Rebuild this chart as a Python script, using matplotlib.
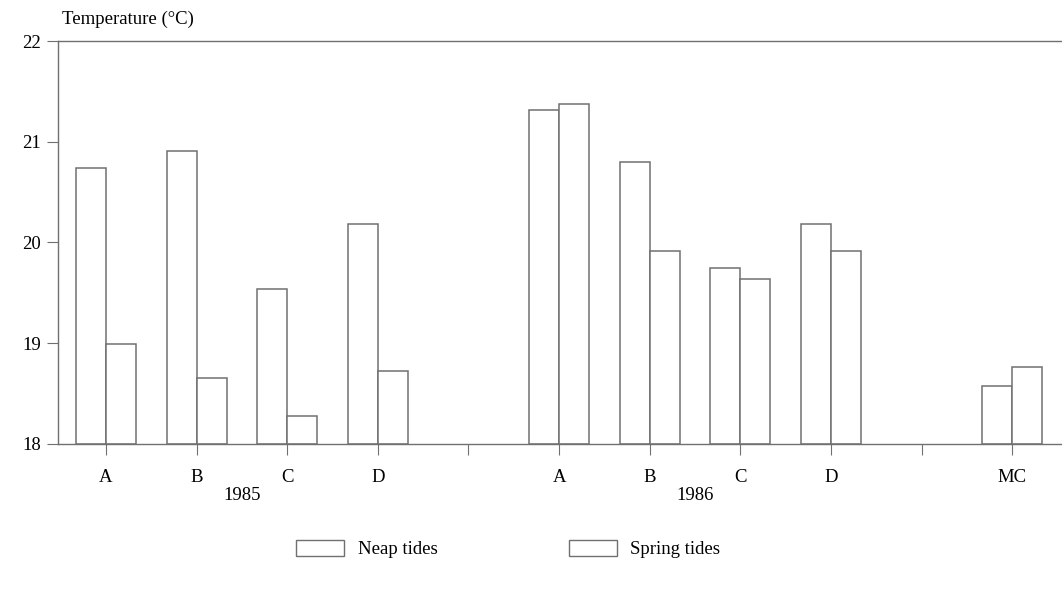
import numpy as np
import matplotlib.pyplot as plt
from matplotlib.patches import Patch
from matplotlib.transforms import blended_transform_factory

plt.rcParams['font.family'] = ['Liberation Serif', 'DejaVu Serif']

# categorias (las posiciones vacias separan 1985, 1986 y MC)
sitios = ['A', 'B', 'C', 'D', '', 'A', 'B', 'C', 'D', '', 'MC']
neap = [20.74, 20.91, 19.54, 20.18, np.nan, 21.32, 20.80, 19.75, 20.18, np.nan, 18.57]
spring = [18.99, 18.65, 18.28, 18.72, np.nan, 21.37, 19.92, 19.64, 19.92, np.nan, 18.76]
anios = ['1985', '1986']
anio_pos = [1.5, 6.5]

gris = '#707070'
x = np.arange(len(sitios))
w = 0.33

fig = plt.figure(figsize=(10.62, 5.95), dpi=100)
ax = fig.add_axes([0.0546, 0.254, 0.9454, 0.677])

base = 18
ax.bar(x - w / 2, np.array(neap) - base, w, bottom=base, facecolor='white',
       edgecolor=gris, linewidth=1.1)
ax.bar(x + w / 2, np.array(spring) - base, w, bottom=base, facecolor='white',
       edgecolor=gris, linewidth=1.1)

ax.set_xlim(-0.53, 10.55)
ax.set_ylim(18, 22)
ax.set_yticks([18, 19, 20, 21, 22])
ax.set_xticks(x)
ax.set_xticklabels(sitios, fontsize=13.5)
ax.tick_params(axis='y', labelsize=13.5, length=8, color=gris, pad=4)
ax.tick_params(axis='x', length=8, color=gris, pad=10)

for s in ['left', 'bottom', 'top']:
    ax.spines[s].set_color(gris)
    ax.spines[s].set_linewidth(1.0)
ax.spines['right'].set_visible(False)

trans = blended_transform_factory(ax.transData, ax.transAxes)
for a, p in zip(anios, anio_pos):
    ax.text(p, -0.127, a, transform=trans, ha='center', va='center', fontsize=13.5)

fig.text(0.058, 1 - 19 / 595, 'Temperature (\u00b0C)', ha='left', va='center', fontsize=13.5)

handles = [Patch(facecolor='white', edgecolor=gris, linewidth=1.0),
           Patch(facecolor='white', edgecolor=gris, linewidth=1.0)]
fig.legend(handles, ['Neap tides', 'Spring tides'], loc='center',
           bbox_to_anchor=(508 / 1062, 1 - 549 / 595), ncol=2, frameon=False,
           fontsize=13.5, handlelength=2.6, handleheight=1.0, columnspacing=7.0,
           handletextpad=0.7)

fig.savefig('out.png', dpi=100)
